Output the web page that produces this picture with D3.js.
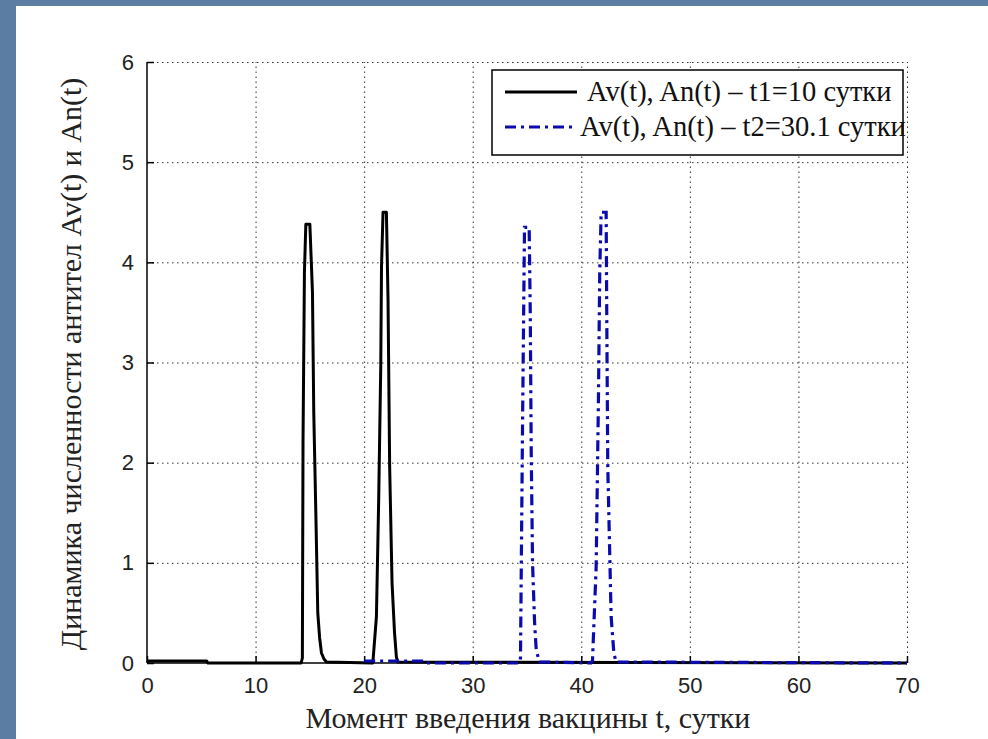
<!DOCTYPE html>
<html>
<head>
<meta charset="utf-8">
<script src="https://cdn.jsdelivr.net/npm/d3@7"></script>
<style>
  body { margin: 0; background: #5b7da3; }
  .grid line { stroke: #333; stroke-dasharray: 1.5,3.5; }
  .grid path { display: none; }
  .axis path, .axis line { stroke: #000; stroke-width: 1.5; }
  .axis text { font-family: "Liberation Sans", sans-serif; font-size: 22px; fill: #222; }
  .lbl { font-family: "Liberation Serif", serif; font-size: 30px; fill: #222; }
  .leg { font-family: "Liberation Serif", serif; font-size: 28.5px; fill: #111; }
</style>
</head>
<body>
<svg id="chart"></svg>
<script>
(function(){

// series 1: Av(t), An(t), t1 = 10 days
var t1Time  = [0, 5.5, 5.6, 14.2, 14.31, 14.37, 14.5, 14.63, 15.0, 15.24, 15.36, 15.55, 15.73, 15.9, 16.07, 16.3, 16.53,
               20.8, 21.13, 21.34, 21.53, 21.6, 21.74, 22.05, 22.2, 22.35, 22.57, 22.8, 22.97, 23.1, 70];
var t1Value = [0.02, 0.02, 0, 0, 0.05, 2.2, 3.9, 4.38, 4.38, 3.7, 2.5, 1.5, 0.5, 0.25, 0.1, 0.04, 0.01,
               0, 0.46, 1.63, 2.96, 3.96, 4.5, 4.5, 3.63, 1.96, 0.8, 0.3, 0.06, 0.01, 0];

// series 2: Av(t), An(t), t2 = 30.1 days
var t2Time  = [20, 25.6, 25.7, 34.3, 34.4, 34.6, 34.77, 35.2, 35.3, 35.39, 35.51, 35.7, 35.85, 36.15,
               40.9, 41.03, 41.37, 41.58, 41.7, 41.83, 42.29, 42.35, 42.44, 42.75, 43.0, 43.2, 70];
var t2Value = [0.02, 0.02, 0, 0, 0.05, 2.5, 4.35, 4.35, 3.5, 2.1, 1.0, 0.4, 0.13, 0.01,
               0, 0.02, 0.96, 2.63, 3.9, 4.5, 4.5, 3.4, 1.96, 0.46, 0.1, 0.01, 0];

var xTicks = [0, 10, 20, 30, 40, 50, 60, 70];
var yTicks = [0, 1, 2, 3, 4, 5, 6];
var legendLabels = ["Av(t), An(t) \u2013 t1=10 сутки", "Av(t), An(t) \u2013 t2=30.1 сутки"];
var xLabel = "Момент введения вакцины t, сутки";
var yLabel = "Динамика численности антител Av(t) и An(t)";

var W = 988, H = 739;
var margin = {top: 62, right: 81, bottom: 76, left: 147},
    width = W - margin.left - margin.right,
    height = H - margin.top - margin.bottom;

var canvas = d3.select("#chart").attr("width", W).attr("height", H);

// white figure area over the blue slide
canvas.append("rect")
  .attr("x", 16).attr("y", 6)
  .attr("width", W - 16).attr("height", H - 6)
  .attr("fill", "#fff");

var svg = canvas.append("g")
  .attr("transform", "translate(" + margin.left + "," + margin.top + ")");

var x = d3.scaleLinear().domain([0, 70]).range([0, width]);
var y = d3.scaleLinear().domain([0, 6]).range([height, 0]);

// dotted grid
svg.append("g")
  .attr("class", "grid")
  .attr("transform", "translate(0," + height + ")")
  .call(d3.axisBottom(x).tickValues(xTicks.slice(1)).tickSize(-height).tickFormat(""));
svg.append("g")
  .attr("class", "grid")
  .call(d3.axisLeft(y).tickValues(yTicks.slice(1)).tickSize(-width).tickFormat(""));

// axes, ticks inward, no box
var xas = svg.append("g")
  .attr("class", "axis")
  .attr("transform", "translate(0," + height + ")")
  .call(d3.axisBottom(x).tickValues(xTicks).tickSize(-7).tickPadding(14).tickFormat(d3.format("d")));
xas.select(".domain").attr("d", "M0,0H" + width);

var yas = svg.append("g")
  .attr("class", "axis")
  .call(d3.axisLeft(y).tickValues(yTicks).tickSize(-7).tickPadding(13).tickFormat(d3.format("d")));
yas.select(".domain").attr("d", "M0," + height + "V0");

var line = d3.line()
  .curve(d3.curveLinear)
  .x(function(d) { return x(d[0]); })
  .y(function(d) { return y(d[1]); });

var s1 = d3.zip(t1Time, t1Value),
    s2 = d3.zip(t2Time, t2Value);

svg.append("path")
  .datum(s1)
  .attr("d", line)
  .attr("fill", "none")
  .attr("stroke", "#000")
  .attr("stroke-width", 3)
  .attr("stroke-linejoin", "round");

svg.append("path")
  .datum(s2)
  .attr("d", line)
  .attr("fill", "none")
  .attr("stroke", "#0a0ab0")
  .attr("stroke-width", 3.2)
  .attr("stroke-dasharray", "11,5,3,5");

svg.append("text")
  .attr("class", "lbl")
  .attr("x", width / 2 + 1)
  .attr("y", height + 65)
  .style("text-anchor", "middle")
  .text(xLabel);

svg.append("text")
  .attr("class", "lbl")
  .attr("transform", "translate(-66," + (364 - margin.top) + ") rotate(-90)")
  .style("text-anchor", "middle")
  .text(yLabel);

// legend
var lg = svg.append("g").attr("transform", "translate(" + (492 - margin.left) + "," + (70 - margin.top) + ")");
lg.append("rect")
  .attr("width", 411).attr("height", 85)
  .attr("fill", "#fff").attr("stroke", "#000").attr("stroke-width", 1.5);

var rows = lg.selectAll("g.row")
  .data(legendLabels)
  .enter().append("g")
  .attr("class", "row")
  .attr("transform", function(d, i) { return "translate(0," + (22 + i * 35) + ")"; });

rows.append("line")
  .attr("x1", 13).attr("x2", 85)
  .attr("stroke", function(d, i) { return i ? "#0a0ab0" : "#000"; })
  .attr("stroke-width", 3)
  .attr("stroke-dasharray", function(d, i) { return i ? "11,5,3,5" : null; });

rows.append("text")
  .attr("class", "leg")
  .attr("x", function(d, i) { return i ? 88 : 95; })
  .attr("dy", "0.33em")
  .text(function(d) { return d; });

})();
</script>
</body>
</html>
